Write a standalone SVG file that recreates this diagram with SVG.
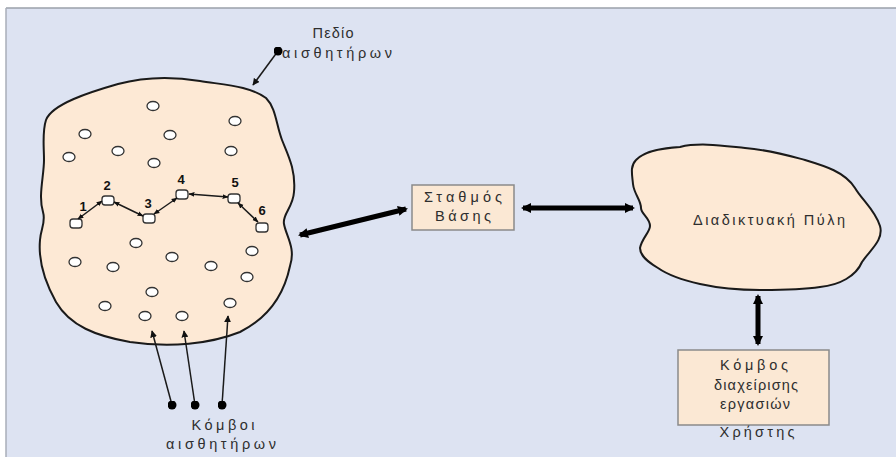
<svg xmlns="http://www.w3.org/2000/svg" width="896" height="457" viewBox="0 0 896 457">
<style>
  text { font-family: "Liberation Sans", Arial, sans-serif; fill: #2e2e2e; }
  .lbl { font-size: 14.5px; text-anchor: middle; }
  .num { font-size: 13px; font-weight: bold; text-anchor: middle; fill:#111; }
  .blob { fill: #fde9d5; stroke: #1a1a1a; stroke-width: 2; }
  .sn { fill: #ffffff; stroke: #333; stroke-width: 1.3; }
  .box { fill: #fbe8d4; stroke: #8a8a8a; stroke-width: 1.5; }
  .thin { stroke: #1a1a1a; stroke-width: 1.5; fill: none; }
  .thick { stroke: #000; stroke-width: 5; fill: none; }
</style>
<defs>
  <marker id="ah" viewBox="0 0 10 10" refX="9" refY="5" markerWidth="7" markerHeight="7" orient="auto-start-reverse" markerUnits="userSpaceOnUse">
    <path d="M0,0 L10,5 L0,10 z" fill="#111"/>
  </marker>
  <marker id="ahs" viewBox="0 0 10 10" refX="9" refY="5" markerWidth="6" markerHeight="6" orient="auto-start-reverse" markerUnits="userSpaceOnUse">
    <path d="M0,1 L10,5 L0,9 z" fill="#111"/>
  </marker>
  <marker id="ahb" viewBox="0 0 10 10" refX="8" refY="5" markerWidth="10" markerHeight="10" orient="auto-start-reverse" markerUnits="userSpaceOnUse">
    <path d="M0,0 L10,5 L0,10 z" fill="#000"/>
  </marker>
  <marker id="dot" viewBox="0 0 10 10" refX="5" refY="5" markerWidth="9" markerHeight="9" markerUnits="userSpaceOnUse">
    <circle cx="5" cy="5" r="5" fill="#000"/>
  </marker>
</defs>
<rect x="0" y="0" width="896" height="457" fill="#ffffff"/>
<rect x="6" y="8" width="890" height="449" fill="#dde3f2"/>
<line x1="6" y1="8" x2="896" y2="8" stroke="#9aa0aa" stroke-width="1.5"/>
<line x1="6" y1="8" x2="6" y2="457" stroke="#a8aeb8" stroke-width="1.5"/>

<g id="sensor-field">
  <path class="blob" d="M46,120 C52,104 90,92 118,84 C140,78 170,76 200,81 C225,85 250,86 266,98 C276,108 276,124 282,140 C288,155 296,170 294,192 C293,208 282,214 284,224 C286,236 296,248 290,266 C285,290 272,316 240,332 C210,344 170,348 130,342 C96,336 70,326 56,302 C46,284 38,262 40,240 C41,228 46,222 43,212 C38,196 44,176 44,160 C44,146 42,132 46,120 Z"/>
  <ellipse class="sn" cx="153" cy="106" rx="6" ry="4.5"/>
  <ellipse class="sn" cx="235" cy="121" rx="6" ry="4.5"/>
  <ellipse class="sn" cx="85" cy="134" rx="6" ry="4.5"/>
  <ellipse class="sn" cx="170" cy="135" rx="6" ry="4.5"/>
  <ellipse class="sn" cx="118" cy="151" rx="6" ry="4.5"/>
  <ellipse class="sn" cx="231" cy="151" rx="6" ry="4.5"/>
  <ellipse class="sn" cx="69" cy="157" rx="6" ry="4.5"/>
  <ellipse class="sn" cx="154" cy="163" rx="6" ry="4.5"/>
  <ellipse class="sn" cx="136" cy="243" rx="6" ry="4.5"/>
  <ellipse class="sn" cx="75" cy="262" rx="6" ry="4.5"/>
  <ellipse class="sn" cx="113" cy="267" rx="6" ry="4.5"/>
  <ellipse class="sn" cx="172" cy="257" rx="6" ry="4.5"/>
  <ellipse class="sn" cx="211" cy="266" rx="6" ry="4.5"/>
  <ellipse class="sn" cx="252" cy="251" rx="6" ry="4.5"/>
  <ellipse class="sn" cx="247" cy="277" rx="6" ry="4.5"/>
  <ellipse class="sn" cx="152" cy="292" rx="6" ry="4.5"/>
  <ellipse class="sn" cx="105" cy="306" rx="6" ry="4.5"/>
  <ellipse class="sn" cx="230" cy="303" rx="6" ry="4.5"/>
  <ellipse class="sn" cx="145" cy="316" rx="6" ry="4.5"/>
  <ellipse class="sn" cx="182" cy="316" rx="6" ry="4.5"/>
</g>

<g id="path-nodes">
  <rect class="sn" x="70" y="219" width="12" height="9" rx="3"/>
  <rect class="sn" x="102" y="196" width="12" height="9" rx="3"/>
  <rect class="sn" x="143" y="214" width="12" height="9" rx="3"/>
  <rect class="sn" x="176" y="190" width="12" height="9" rx="3"/>
  <rect class="sn" x="228" y="194" width="12" height="9" rx="3"/>
  <rect class="sn" x="256" y="223" width="12" height="9" rx="3"/>
  <text class="num" x="83" y="211">1</text>
  <text class="num" x="107" y="190">2</text>
  <text class="num" x="148" y="208">3</text>
  <text class="num" x="181" y="184">4</text>
  <text class="num" x="235" y="187">5</text>
  <text class="num" x="262" y="215">6</text>
</g>

<g id="base-station">
  <rect class="box" x="412" y="185" width="102" height="45"/>
  <text class="lbl" x="463" y="202" textLength="78" lengthAdjust="spacing">Σταθμός</text>
  <text class="lbl" x="463" y="221" textLength="56" lengthAdjust="spacing">Βάσης</text>
</g>

<g id="internet-gateway">
  <path class="blob" stroke-width="1.5" d="M636,160 C645,150 665,148 680,147 C700,142 725,146 745,148 C770,150 790,156 805,160 C825,166 845,172 855,188 C862,200 875,210 880,226 C884,240 870,250 862,262 C856,276 840,285 820,287 C800,290 780,290 760,290 C740,290 718,288 700,284 C682,280 668,275 658,268 C648,262 640,256 640,248 C642,238 650,232 650,226 C650,218 641,214 641,208 C641,200 634,194 633,184 C632,174 630,166 636,160 Z"/>
  <text class="lbl" x="769" y="225" textLength="152" lengthAdjust="spacing">Διαδικτυακή Πύλη</text>
</g>

<g id="user-node">
  <rect class="box" x="678" y="350" width="151" height="75"/>
  <text class="lbl" x="754" y="370" textLength="68" lengthAdjust="spacing">Κόμβος</text>
  <text class="lbl" x="756" y="390" textLength="84" lengthAdjust="spacing">διαχείρισης</text>
  <text class="lbl" x="755" y="409" textLength="70" lengthAdjust="spacing">εργασιών</text>
  <text class="lbl" x="757" y="437" textLength="75" lengthAdjust="spacing">Χρήστης</text>
</g>

<g id="labels">
  <text class="lbl" x="333" y="38" textLength="41" lengthAdjust="spacing">Πεδίο</text>
  <text class="lbl" x="337" y="58" textLength="110" lengthAdjust="spacing">αισθητήρων</text>
  <text class="lbl" x="223" y="430" textLength="63" lengthAdjust="spacing">Κόμβοι</text>
  <text class="lbl" x="221" y="449" textLength="110" lengthAdjust="spacing">αισθητήρων</text>
</g>

<g id="connectors">
  <line class="thin" x1="78" y1="219" x2="102" y2="201" marker-start="url(#ahs)" marker-end="url(#ahs)"/>
  <line class="thin" x1="114" y1="202" x2="143" y2="216" marker-start="url(#ahs)" marker-end="url(#ahs)"/>
  <line class="thin" x1="154" y1="214" x2="177" y2="198" marker-start="url(#ahs)" marker-end="url(#ahs)"/>
  <line class="thin" x1="189" y1="194" x2="228" y2="197" marker-start="url(#ahs)" marker-end="url(#ahs)"/>
  <line class="thin" x1="238" y1="203" x2="258" y2="222" marker-start="url(#ahs)" marker-end="url(#ahs)"/>
  <line class="thin" x1="278" y1="51" x2="253" y2="85" marker-start="url(#dot)" marker-end="url(#ah)"/>
  <line class="thin" x1="172" y1="405" x2="152" y2="331" marker-start="url(#dot)" marker-end="url(#ah)"/>
  <line class="thin" x1="195" y1="405" x2="184" y2="331" marker-start="url(#dot)" marker-end="url(#ah)"/>
  <line class="thin" x1="222" y1="405" x2="228" y2="316" marker-start="url(#dot)" marker-end="url(#ah)"/>
  <line class="thick" x1="300" y1="235" x2="406" y2="209" marker-start="url(#ahb)" marker-end="url(#ahb)" stroke-width="4.5"/>
  <line class="thick" x1="523" y1="208" x2="633" y2="208" marker-start="url(#ahb)" marker-end="url(#ahb)" stroke-width="4.5"/>
  <line class="thick" x1="758" y1="296" x2="758" y2="344" marker-start="url(#ahb)" marker-end="url(#ahb)" stroke-width="5"/>
</g>
</svg>
